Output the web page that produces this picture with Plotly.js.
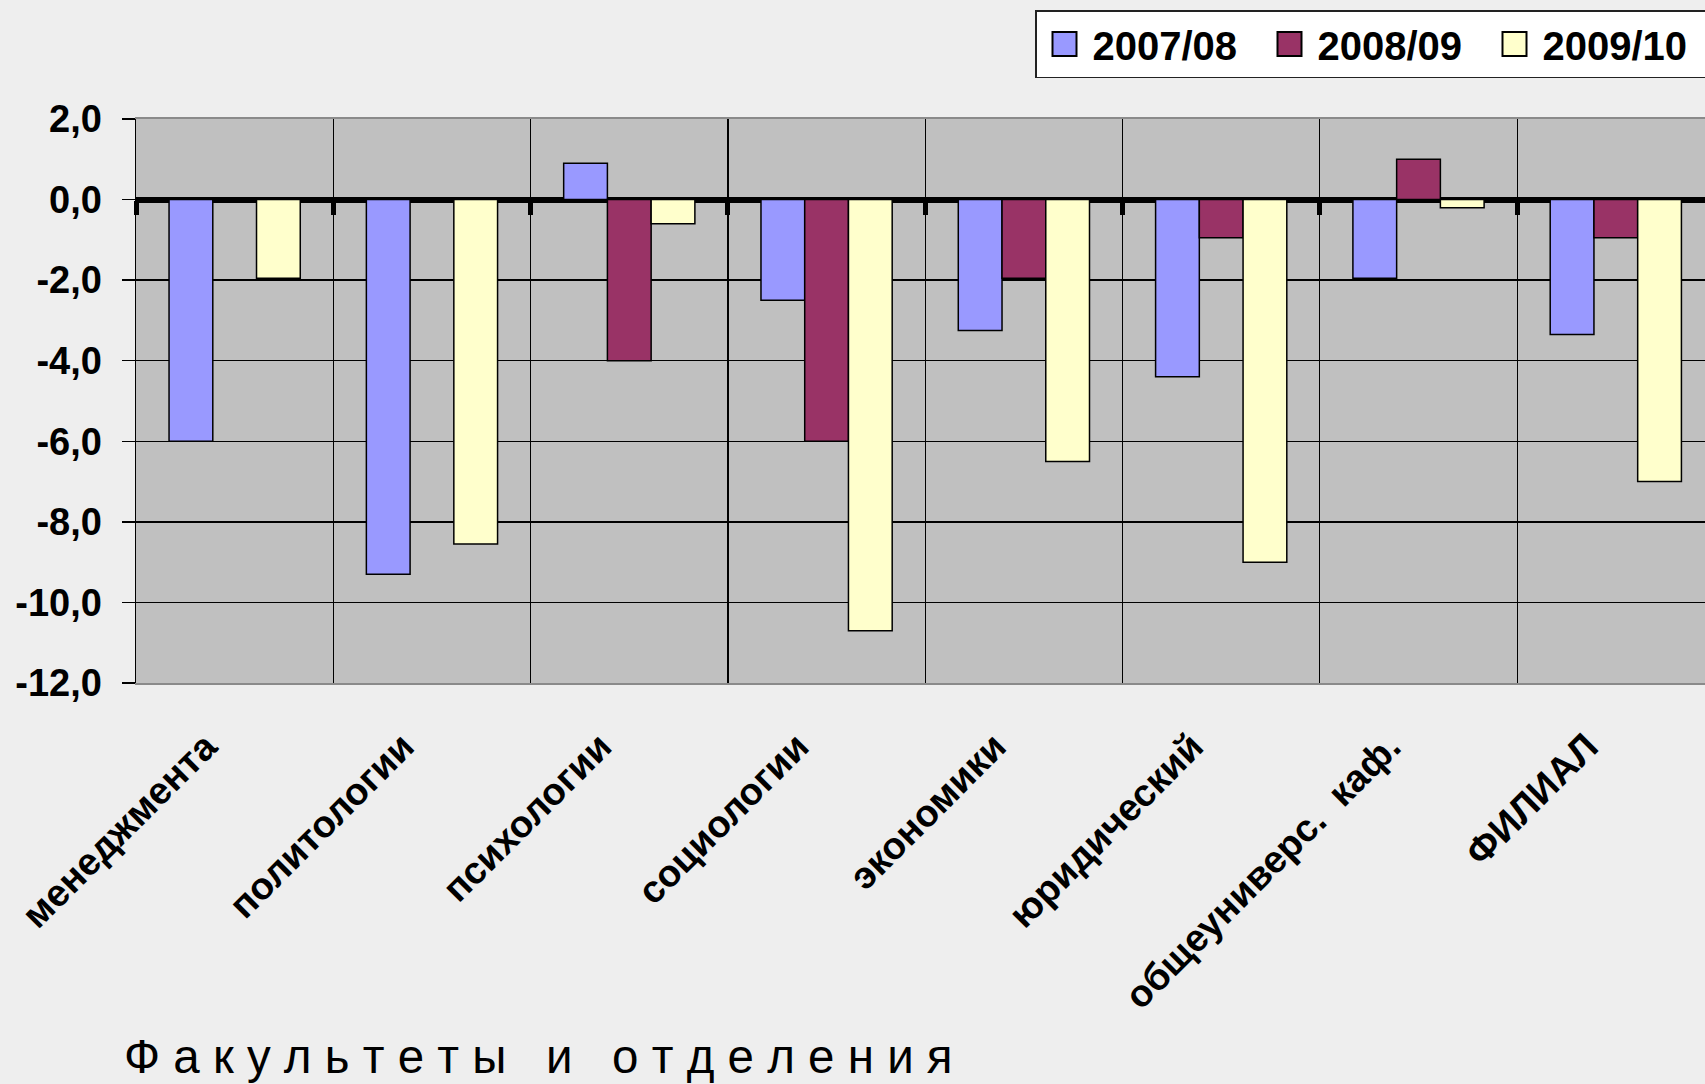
<!DOCTYPE html>
<html>
<head>
<meta charset="utf-8">
<script src="https://cdn.plot.ly/plotly-3.0.1.min.js"></script>
<style>
  html, body { margin: 0; padding: 0; background: #eeeeee; }
  #chart { width: 1705px; height: 1084px; }
</style>
</head>
<body>
<div id="chart"></div>
<script>
const categories = ["менеджмента", "политологии", "психологии", "социологии", "экономики", "юридический", "общеуниверс.\u00A0 каф.", "ФИЛИАЛ"];
const seriesNames = ["2007/08", "2008/09", "2009/10"];
const values0708 = [-6.0, -9.3, 0.9, -2.5, -3.25, -4.4, -1.95, -3.35];
const values0809 = [null, null, -4.0, -6.0, -1.95, -0.95, 1.0, -0.95];
const values0910 = [-1.95, -8.55, -0.6, -10.7, -6.5, -9.0, -0.2, -7.0];
const yTicks = [2, 0, -2, -4, -6, -8, -10, -12];
const yTickText = yTicks.map(v => v.toFixed(1).replace(".", ","));
const xTitle = "Ф а к у л ь т е т ы\u00A0\u00A0 и\u00A0\u00A0 о т д е л е н и я";

const colors = ["#9999FF", "#993366", "#FFFFCC"];
const allValues = [values0708, values0809, values0910];

const traces = allValues.map((vals, i) => ({
  type: "bar",
  name: seriesNames[i],
  x: categories,
  y: vals,
  marker: { color: colors[i], line: { color: "#000000", width: 1.5 } },
  hoverinfo: "x+y+name"
}));

// empty helper trace so that the boundary-tick axis (x2) is drawn
traces.push({ type: "scatter", x: [], y: [], xaxis: "x2", yaxis: "y", showlegend: false, hoverinfo: "skip" });

const xRange = [-0.5, 7.452];
const boundaries = [];
for (let i = 0; i < categories.length; i++) boundaries.push(i - 0.5);

const layout = {
  width: 1705,
  height: 1084,
  paper_bgcolor: "#eeeeee",
  plot_bgcolor: "#C0C0C0",
  separators: ",.",
  barmode: "group",
  bargap: 0.335,
  bargroupgap: 0,
  margin: { l: 136, r: 0, t: 119, b: 401, pad: 0 },
  title: {
    text: xTitle,
    font: { family: "Liberation Sans, Arial, sans-serif", size: 47.5, color: "#000" },
    xref: "container", yref: "container",
    x: 124 / 1705, xanchor: "left",
    y: 11 / 1084, yanchor: "bottom"
  },
  showlegend: true,
  legend: {
    orientation: "h",
    xref: "container", yref: "container",
    x: 1035 / 1705, xanchor: "left",
    y: 1 - 10 / 1084, yanchor: "top",
    bgcolor: "#ffffff",
    bordercolor: "#222222",
    borderwidth: 1.5,
    font: { family: "Liberation Sans, Arial, sans-serif", size: 40, color: "#000", weight: "bold" },
    itemwidth: 46,
    entrywidth: 164,
    entrywidthmode: "pixels",
    traceorder: "normal"
  },
  xaxis: {
    type: "category",
    range: xRange,
    tickson: "boundaries",
    showgrid: true,
    gridcolor: "#000000",
    gridwidth: 1.3,
    ticks: "",
    tickangle: -45,
    ticklabelstandoff: 24,
    ticklabelshift: -29,
    tickfont: { family: "Liberation Sans, Arial, sans-serif", size: 38, color: "#000", weight: "bold" },
    showline: true,
    mirror: true,
    linecolor: "#8a8a8a",
    linewidth: 2,
    fixedrange: true
  },
  xaxis2: {
    overlaying: "x",
    anchor: "free",
    position: 12 / 14,
    side: "bottom",
    range: xRange,
    tickmode: "array",
    tickvals: boundaries,
    ticks: "outside",
    ticklen: 14,
    tickwidth: 5,
    tickcolor: "#000000",
    showticklabels: false,
    showgrid: false,
    zeroline: false,
    showline: false,
    fixedrange: true
  },
  yaxis: {
    range: [-12, 2],
    tickmode: "array",
    tickvals: yTicks,
    ticktext: yTickText,
    ticks: "outside",
    ticklen: 13,
    tickwidth: 1.5,
    tickcolor: "#000000",
    ticklabelstandoff: 12,
    tickfont: { family: "Liberation Sans, Arial, sans-serif", size: 38, color: "#000", weight: "bold" },
    showgrid: true,
    gridcolor: "#000000",
    gridwidth: 1.3,
    zeroline: true,
    zerolinecolor: "#000000",
    zerolinewidth: 6,
    showline: true,
    linecolor: "#000000",
    linewidth: 1.5,
    fixedrange: true
  }
};

Plotly.newPlot("chart", traces, layout, { displayModeBar: false, staticPlot: true }).then(gd => {
  // enlarge the legend swatches to match the reference's large squares
  gd.querySelectorAll(".legend .legendpoints path").forEach(p => {
    const t = p.getAttribute("transform") || "";
    p.setAttribute("transform", t + " scale(2)");
    p.style.strokeWidth = "1px";
  });
});
</script>
</body>
</html>
